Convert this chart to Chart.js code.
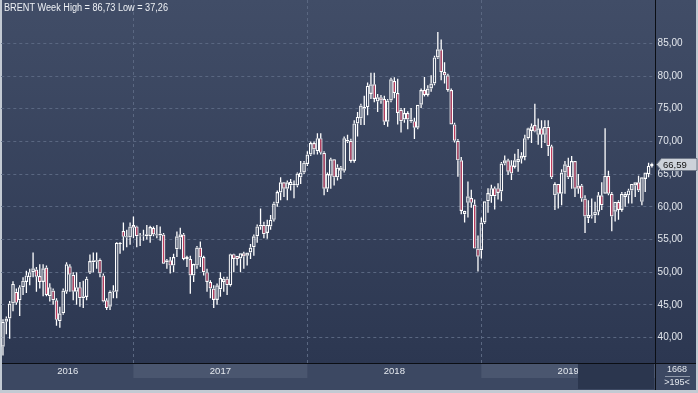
<!DOCTYPE html>
<html>
<head>
<meta charset="utf-8">
<script src="https://cdn.jsdelivr.net/npm/chart.js@4.4.1/dist/chart.umd.min.js"></script>
<style>
    html, body { margin: 0; padding: 0; background: #c3cad3; }
    canvas { display: block; }
</style>
</head>
<body>
<canvas id="brentChart" width="698" height="393"></canvas>
<script>
/* BRENT weekly candles, Apr 2016 - Dec 2019 */

const opens = [
    38.6, 42.4, 42.9, 45.2, 47.0, 45.7, 47.7, 48.5, 49.2, 50.0,
    50.4, 49.4, 48.5, 50.7, 46.3, 47.2, 45.7, 42.5, 43.7, 47.0,
    50.9, 49.6, 47.0, 47.7, 46.0, 46.2, 49.9, 51.5, 51.6, 51.9,
    49.5, 45.7, 44.7, 47.0, 47.0, 54.3, 56.3, 55.3, 55.3, 57.2,
    57.0, 55.5, 55.6, 55.5, 55.5, 56.75, 55.6, 55.6, 55.75, 51.5,
    51.8, 51.0, 53.5, 55.3, 55.75, 52.3, 52.0, 49.5, 51.0, 53.75,
    52.3, 50.0, 48.5, 47.5, 45.75, 47.4, 48.5, 49.0, 48.0, 52.75,
    52.5, 52.1, 52.9, 52.5, 53.0, 53.8, 55.5, 57.0, 57.25, 56.0,
    57.0, 58.0, 60.5, 62.2, 63.75, 62.75, 63.3, 63.5, 63.25, 64.5,
    65.25, 66.5, 68.0, 69.75, 68.5, 70.5, 68.25, 62.75, 64.75, 67.25,
    64.5, 65.5, 65.5, 70.25, 70.1, 67.0, 72.75, 73.5, 75.0, 75.25,
    77.25, 78.75, 76.1, 76.75, 76.5, 73.0, 76.25, 79.25, 77.4, 74.85,
    73.35, 74.35, 73.35, 73.1, 72.1, 75.6, 77.85, 77.1, 78.1, 78.85,
    82.85, 84.1, 80.6, 80.1, 77.85, 72.6, 70.1, 67.1, 58.85, 60.6,
    61.35, 60.35, 53.6, 53.35, 57.6, 60.85, 61.6, 62.85, 62.85, 62.35,
    66.6, 67.1, 66.35, 66.1, 66.85, 67.35, 67.6, 70.5, 71.6, 72.5,
    71.0, 72.0, 71.0, 72.25, 69.25, 61.75, 63.5, 62.0, 65.25, 66.25,
    64.5, 67.0, 63.25, 63.25, 61.25, 58.25, 58.5, 58.7, 59.25, 61.75,
    62.0, 64.75, 62.0, 59.25, 60.75, 59.5, 61.5, 61.75, 62.5, 63.25,
    63.75, 60.75, 64.25, 65.0, 66.25
];

const highs = [
    42.8, 43.2, 45.6, 48.6, 47.5, 48.0, 49.2, 50.2, 50.5, 53.0,
    50.8, 51.2, 51.2, 51.0, 48.3, 47.5, 46.0, 44.7, 47.5, 51.5,
    51.2, 50.0, 50.0, 48.5, 48.7, 49.3, 52.7, 53.0, 53.0, 52.1,
    49.8, 46.0, 47.2, 48.0, 54.6, 54.6, 57.6, 56.5, 57.6, 58.5,
    57.1, 56.0, 56.5, 57.2, 57.1, 57.0, 57.2, 57.0, 56.0, 52.0,
    52.3, 52.8, 56.2, 56.8, 56.0, 52.5, 52.5, 51.3, 54.0, 54.7,
    52.5, 50.5, 48.75, 48.0, 48.25, 50.0, 49.3, 49.3, 52.8, 52.8,
    52.5, 52.9, 53.1, 53.0, 54.3, 55.75, 57.3, 59.75, 57.7, 58.0,
    58.75, 60.75, 62.5, 64.5, 63.8, 64.0, 64.25, 64.0, 65.25, 67.0,
    67.0, 68.5, 70.0, 70.0, 71.25, 71.25, 68.5, 65.25, 67.5, 67.3,
    66.5, 66.25, 70.75, 71.0, 70.4, 73.25, 74.5, 75.75, 77.0, 79.0,
    80.5, 80.5, 77.25, 77.1, 77.0, 76.5, 79.75, 79.8, 79.6, 75.1,
    75.1, 74.6, 75.1, 73.6, 75.6, 78.1, 79.85, 78.6, 80.1, 83.1,
    86.73, 85.6, 82.1, 80.35, 78.1, 72.85, 70.35, 67.6, 59.4, 63.85,
    62.6, 61.1, 55.6, 58.35, 60.85, 62.85, 63.35, 63.1, 63.6, 66.85,
    67.85, 67.35, 67.1, 68.1, 68.85, 68.35, 71.0, 72.1, 72.75, 75.75,
    73.5, 73.25, 73.25, 73.25, 69.5, 63.75, 63.5, 65.75, 67.0, 67.5,
    67.75, 67.0, 65.0, 63.5, 61.75, 61.0, 61.25, 60.75, 62.25, 63.75,
    72.0, 65.5, 62.25, 60.75, 61.0, 62.25, 62.25, 62.75, 63.5, 63.75,
    64.75, 64.5, 65.25, 66.75, 66.75
];

const lows = [
    37.26, 40.5, 39.8, 44.0, 45.0, 43.3, 46.5, 46.8, 48.0, 49.2,
    47.0, 47.5, 46.3, 46.3, 45.5, 45.0, 41.8, 41.5, 43.5, 46.7,
    47.0, 45.7, 45.0, 44.7, 44.5, 45.7, 49.7, 50.0, 50.5, 49.2,
    45.4, 44.2, 44.2, 46.0, 46.0, 52.8, 53.3, 53.8, 54.2, 55.2,
    53.8, 54.0, 54.8, 55.0, 54.5, 55.5, 55.2, 54.8, 51.25, 50.5,
    49.8, 50.0, 52.3, 53.5, 51.8, 50.8, 46.7, 48.5, 50.5, 50.8,
    49.5, 47.0, 46.0, 44.5, 45.0, 46.25, 47.0, 46.5, 47.8, 50.0,
    51.0, 50.0, 50.5, 51.0, 52.0, 52.5, 54.5, 56.5, 55.2, 55.1,
    56.5, 57.75, 60.0, 61.0, 61.5, 61.0, 62.5, 61.3, 63.0, 63.5,
    65.0, 66.25, 67.75, 68.0, 68.0, 68.0, 61.75, 62.25, 62.75, 63.25,
    64.0, 64.25, 65.25, 69.75, 66.75, 66.75, 70.75, 72.5, 72.5, 74.0,
    76.5, 76.0, 74.5, 75.75, 72.5, 72.25, 76.0, 76.6, 72.6, 71.35,
    72.85, 71.85, 72.85, 70.35, 71.85, 75.1, 76.85, 76.85, 77.6, 78.6,
    82.6, 79.35, 78.85, 77.6, 72.6, 69.85, 64.6, 58.85, 57.6, 58.35,
    59.85, 53.6, 50.1, 52.1, 57.35, 59.1, 60.6, 59.6, 61.1, 60.85,
    66.35, 64.85, 64.1, 65.85, 65.35, 66.6, 67.1, 70.3, 69.75, 71.4,
    69.5, 69.0, 69.75, 67.75, 64.25, 59.5, 59.75, 60.25, 62.0, 64.25,
    62.75, 61.5, 62.0, 60.75, 56.0, 57.5, 58.2, 57.5, 58.7, 59.5,
    62.0, 61.75, 56.25, 57.75, 58.0, 59.25, 60.0, 60.5, 60.5, 61.5,
    62.25, 60.25, 62.25, 64.5, 66.0
];

const closes = [
    42.4, 42.9, 45.2, 48.2, 45.3, 47.7, 48.7, 49.5, 50.0, 50.6,
    49.3, 48.5, 50.6, 46.5, 47.7, 45.7, 42.7, 43.7, 47.2, 51.2,
    49.6, 47.0, 47.7, 46.0, 46.3, 49.0, 51.7, 51.8, 51.8, 49.8,
    45.5, 44.5, 47.0, 47.2, 54.5, 54.5, 55.4, 55.5, 57.0, 56.8,
    55.5, 55.6, 55.5, 55.8, 56.9, 55.75, 55.8, 55.9, 51.3, 51.8,
    51.0, 52.3, 55.5, 55.8, 52.0, 52.0, 49.5, 51.25, 53.75, 52.25,
    50.0, 48.5, 47.5, 45.75, 48.0, 49.1, 49.0, 48.0, 52.75, 52.0,
    52.0, 52.9, 52.4, 53.0, 53.75, 55.5, 57.0, 57.25, 55.8, 57.25,
    58.0, 60.5, 62.25, 63.75, 62.75, 63.75, 63.8, 63.3, 65.1, 65.25,
    66.75, 68.0, 69.75, 68.75, 70.5, 68.25, 62.75, 65.0, 67.25, 64.5,
    66.0, 66.0, 70.5, 70.0, 67.0, 72.75, 73.75, 75.5, 75.25, 78.5,
    78.75, 76.5, 76.75, 76.25, 73.0, 76.25, 79.5, 77.4, 74.35, 73.1,
    74.35, 73.35, 73.1, 72.1, 75.6, 77.85, 77.1, 78.1, 78.85, 82.85,
    84.1, 80.6, 80.1, 77.85, 72.6, 70.1, 67.1, 59.35, 59.35, 61.6,
    60.6, 53.6, 52.35, 57.6, 60.85, 62.1, 62.85, 61.6, 62.1, 66.6,
    67.1, 65.35, 65.1, 67.1, 67.35, 67.85, 70.5, 72.0, 72.3, 71.5,
    72.0, 71.0, 72.25, 69.25, 64.5, 63.5, 62.0, 65.25, 66.5, 64.5,
    67.0, 62.75, 62.75, 61.25, 58.5, 58.75, 58.7, 59.25, 61.75, 60.25,
    64.75, 62.0, 58.5, 60.75, 59.5, 62.0, 62.0, 62.5, 63.5, 63.75,
    62.5, 64.5, 65.25, 66.25, 66.59
];

const yearLabels = ["2016", "2017", "2018", "2019"];
const yearStart = [0, 39, 91, 143];      // index of first candle of each year
const priceTicks = [40, 45, 50, 55, 60, 65, 70, 75, 80, 85];

const firstWeek = Date.UTC(2016, 3, 8);
const weeks = opens.map((_, i) =>
    new Date(firstWeek + i * 7 * 864e5).toISOString().slice(0, 10));

const RED = "#c03c5e";
const WHITE = "#ffffff";
const GRID = "#5a6781";
const FONT = "'Liberation Sans', Arial, sans-serif";

const fmt = v => v.toFixed(2).replace(".", ",");

const bodyLow = opens.map((o, i) => Math.min(o, closes[i]));
const bodyHigh = opens.map((o, i) => Math.max(o, closes[i]));

const decor = {

    id: "decor",

    beforeDraw(chart) {
        const { ctx } = chart;
        const x = chart.scales.x;
        ctx.save();

        ctx.fillStyle = "#c3cad3";
        ctx.fillRect(0, 0, 698, 393);

        const g = ctx.createLinearGradient(0, 0, 0, 364);
        g.addColorStop(0, "#414d67");
        g.addColorStop(1, "#2c3751");
        ctx.fillStyle = g;
        ctx.fillRect(2, 0, 694, 364);

        // bottom time strip
        ctx.fillStyle = "#3c4862";
        ctx.fillRect(2, 364, 694, 26);

        yearStart.forEach((s, k) => {
            if (k % 2 === 0) return;
            const x0 = x.getPixelForValue(s);
            const x1 = k + 1 < yearStart.length ? x.getPixelForValue(yearStart[k + 1]) : 655;
            ctx.fillStyle = "#4a566f";
            ctx.fillRect(x0, 364, x1 - x0, 14);
        });

        ctx.restore();
    },

    beforeDatasetsDraw(chart) {
        const { ctx } = chart;
        const x = chart.scales.x;
        ctx.save();
        ctx.strokeStyle = GRID;
        ctx.lineWidth = 1;
        ctx.setLineDash([3, 3]);
        yearStart.slice(1).forEach(s => {
            const px = Math.round(x.getPixelForValue(s)) + 0.5;
            ctx.beginPath();
            ctx.moveTo(px, 0);
            ctx.lineTo(px, 363);
            ctx.stroke();
        });
        ctx.restore();
    },

    afterDraw(chart) {
        const { ctx } = chart;
        const x = chart.scales.x;
        const y = chart.scales.y;
        ctx.save();

        // year labels
        ctx.font = "9.5px " + FONT;
        ctx.fillStyle = "#e4e8ee";
        ctx.textAlign = "center";
        ctx.textBaseline = "middle";
        yearLabels.forEach((lab, k) => {
            const x0 = k === 0 ? 2 : x.getPixelForValue(yearStart[k]);
            const x1 = k + 1 < yearStart.length ? x.getPixelForValue(yearStart[k + 1]) : 655;
            ctx.fillText(lab, (x0 + x1) / 2, 371);
        });

        // scroll thumb
        ctx.fillStyle = "#2b364e";
        ctx.fillRect(578, 364, 76, 25);

        // frame lines
        ctx.strokeStyle = "#0b0e14";
        ctx.lineWidth = 1;
        ctx.beginPath();
        ctx.moveTo(655.5, 0);
        ctx.lineTo(655.5, 390);
        ctx.moveTo(2, 363.5);
        ctx.lineTo(696, 363.5);
        ctx.stroke();

        // counter box
        ctx.font = "9px " + FONT;
        ctx.fillStyle = "#e4e8ee";
        ctx.fillText("1668", 677, 370);
        ctx.fillText(">195<", 677, 383);
        ctx.strokeStyle = "#8d97a8";
        ctx.beginPath();
        ctx.moveTo(665, 376.5);
        ctx.lineTo(690, 376.5);
        ctx.stroke();

        // last price tag
        const last = closes[closes.length - 1];
        const py = Math.round(y.getPixelForValue(last)) + 0.5;
        ctx.beginPath();
        ctx.moveTo(656.5, py);
        ctx.lineTo(661.5, py - 6);
        ctx.lineTo(697, py - 6);
        ctx.lineTo(697, py + 6);
        ctx.lineTo(661.5, py + 6);
        ctx.closePath();
        ctx.fillStyle = "#cdd2da";
        ctx.fill();
        ctx.strokeStyle = "#6f7888";
        ctx.stroke();
        ctx.fillStyle = "#121212";
        ctx.textAlign = "left";
        ctx.font = "9.5px " + FONT;
        ctx.fillText(fmt(last), 663, py + 0.5);

        // title
        ctx.font = "10px " + FONT;
        ctx.fillStyle = "#eef1f5";
        ctx.textAlign = "left";
        ctx.fillText("BRENT Week High = " + fmt(Math.max(...highs)) +
            " Low = " + fmt(Math.min(...lows)), 4, 8, 164);

        ctx.restore();
    }

};

const canvas = document.getElementById("brentChart");

new Chart(canvas, {

    type: "bar",

    data: {

        labels: weeks,

        datasets: [

            {
                label: "lower wick",
                data: lows.map((l, i) => [l, bodyLow[i]]),
                backgroundColor: WHITE,
                barThickness: 1.3,
                grouped: false,
                inflateAmount: 0
            },

            {
                label: "upper wick",
                data: highs.map((h, i) => [bodyHigh[i], h]),
                backgroundColor: WHITE,
                barThickness: 1.3,
                grouped: false,
                inflateAmount: 0
            },

            {
                label: "body",
                data: bodyLow.map((b, i) => [b, bodyHigh[i]]),
                backgroundColor: opens.map((o, i) => closes[i] < o ? RED : "rgba(0,0,0,0)"),
                borderColor: WHITE,
                borderWidth: 1.2,
                borderSkipped: false,
                barThickness: 3.6,
                grouped: false,
                inflateAmount: 0
            }

        ]

    },

    options: {

        responsive: false,

        animation: false,

        devicePixelRatio: 1,

        layout: {
            padding: { left: 1.3, top: 3, right: 0, bottom: 30 }
        },

        plugins: {
            legend: { display: false },
            tooltip: { enabled: false }
        },

        scales: {

            x: {
                type: "category",
                display: false,
                offset: true
            },

            y: {
                position: "right",
                min: 36.1,
                max: 90.1,
                afterBuildTicks: s => { s.ticks = priceTicks.map(v => ({ value: v })); },
                afterFit: s => { s.width = 44.4; },
                grid: { color: GRID, drawTicks: false },
                border: { display: false, dash: [3, 3] },
                ticks: {
                    color: "#e3e7ed",
                    padding: 4,
                    font: { family: FONT, size: 10 },
                    callback: v => fmt(v)
                }
            }

        }

    },

    plugins: [decor]

});
</script>
</body>
</html>
